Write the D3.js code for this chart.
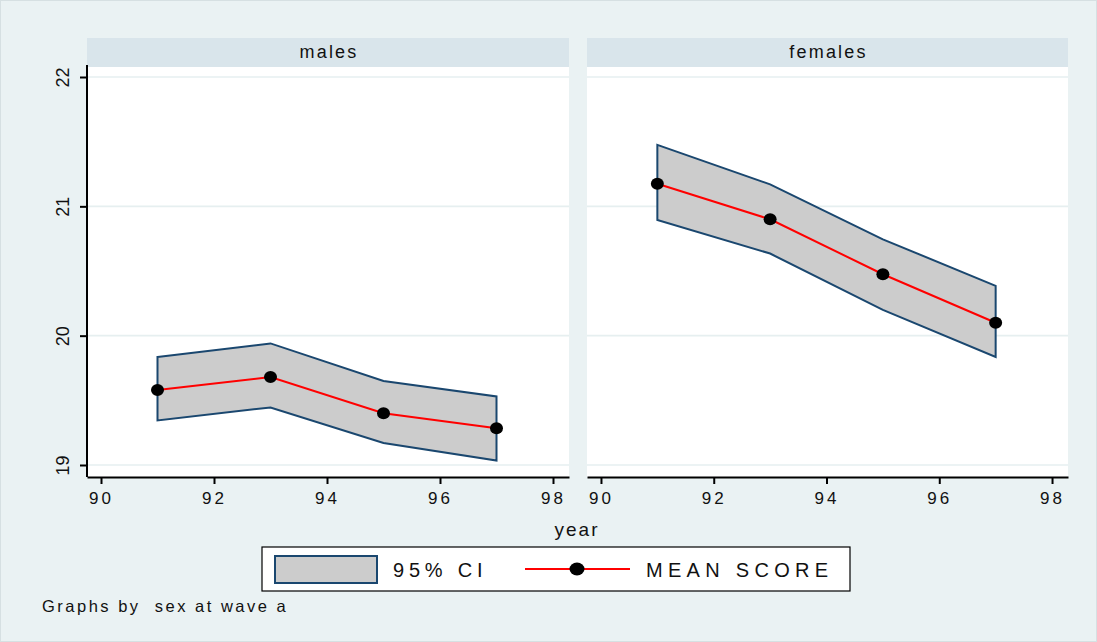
<!DOCTYPE html>
<html>
<head>
<meta charset="utf-8">
<script src="https://cdn.jsdelivr.net/npm/d3@7"></script>
<style>
  body { margin: 0; background: #eaf2f3; }
  text { font-family: "Liberation Sans", Arial, sans-serif; fill: #111; white-space: pre; }
</style>
</head>
<body>
<div id="chart"></div>
<script>
// data
const years = [91, 93, 95, 97];
const groups = ["males", "females"];
const meanMales = [19.58, 19.68, 19.40, 19.285];
const upperMales = [19.835, 19.94, 19.65, 19.53];
const lowerMales = [19.345, 19.445, 19.17, 19.035];
const meanFemales = [21.175, 20.9, 20.475, 20.1];
const upperFemales = [21.475, 21.17, 20.745, 20.385];
const lowerFemales = [20.895, 20.635, 20.2, 19.835];
const xTicks = [90, 92, 94, 96, 98];
const yTicks = [19, 20, 21, 22];

const width = 1097;
const height = 642;

const svg = d3.select("#chart").append("svg").attr("width", width).attr("height", height);
svg.append("rect").attr("x", 0.5).attr("y", 0.5).attr("width", width - 1).attr("height", height - 1)
  .attr("fill", "#eaf2f3").attr("stroke", "#d6e0e2");

const plotTop = 67, plotBottom = 477, headTop = 38;
const panels = [
  { name: groups[0], x0: 87, x1: 569, mean: meanMales, hi: upperMales, lo: lowerMales },
  { name: groups[1], x0: 587, x1: 1068, mean: meanFemales, hi: upperFemales, lo: lowerFemales }
];

const y = d3.scaleLinear().domain([19 - 12 / 129.3, 22 + 10 / 129.3]).range([plotBottom, plotTop]);

panels.forEach((p, i) => {
  const x = d3.scaleLinear().domain([90 - 14 / 56.5, 98 + 16 / 56.5]).range([p.x0, p.x1]);
  const g = svg.append("g");

  // header strip
  g.append("rect").attr("x", p.x0).attr("y", headTop).attr("width", p.x1 - p.x0).attr("height", plotTop - headTop)
    .attr("fill", "#d9e5eb");
  g.append("text").attr("x", (p.x0 + p.x1) / 2 + 1).attr("y", 58).attr("text-anchor", "middle")
    .attr("font-size", 18).attr("letter-spacing", "2.2px").text(p.name);

  // plot area
  g.append("rect").attr("x", p.x0).attr("y", plotTop).attr("width", p.x1 - p.x0).attr("height", plotBottom - plotTop)
    .attr("fill", "#fff");

  // grid
  g.selectAll(".grid").data(yTicks).enter().append("line")
    .attr("x1", p.x0).attr("x2", p.x1).attr("y1", d => y(d)).attr("y2", d => y(d))
    .attr("stroke", "#e6eff0").attr("stroke-width", 1.6);

  // confidence band
  const band = d3.area().x(d => x(d.yr)).y0(d => y(d.lo)).y1(d => y(d.hi));
  const bandData = years.map((yr, k) => ({ yr: yr, lo: p.lo[k], hi: p.hi[k] }));
  g.append("path").datum(bandData).attr("d", band)
    .attr("fill", "#cccccc").attr("stroke", "none");
  const outline = years.map((yr, k) => [x(yr), y(p.hi[k])])
    .concat(years.slice().reverse().map((yr, k) => [x(yr), y(p.lo[years.length - 1 - k])]));
  g.append("path").attr("d", d3.line()(outline) + "Z")
    .attr("fill", "none").attr("stroke", "#1a476f").attr("stroke-width", 2).attr("stroke-linejoin", "miter");

  // mean line and markers
  g.append("path").datum(years.map((yr, k) => [x(yr), y(p.mean[k])]))
    .attr("d", d3.line()).attr("fill", "none").attr("stroke", "#ff0000").attr("stroke-width", 2);
  g.selectAll(".pt").data(years).enter().append("ellipse")
    .attr("cx", d => x(d)).attr("cy", (d, k) => y(p.mean[k])).attr("rx", 6.5).attr("ry", 6)
    .attr("fill", "#000");

  // x axis
  const xa = g.append("g").attr("transform", `translate(0,${plotBottom})`)
    .call(d3.axisBottom(x).tickValues(xTicks).tickSize(7).tickSizeOuter(0).tickPadding(8));
  xa.select(".domain").attr("stroke", "#000").attr("stroke-width", 2);
  xa.selectAll(".tick line").attr("stroke", "#000").attr("stroke-width", 2);
  xa.selectAll(".tick text").attr("font-size", 17).attr("letter-spacing", "3px").attr("dx", "0px")
    .attr("font-family", "Liberation Sans, Arial, sans-serif").attr("fill", "#111");

  if (i === 0) {
    const ya = g.append("g").attr("transform", `translate(${p.x0},0)`)
      .call(d3.axisLeft(y).tickValues(yTicks).tickFormat(d3.format("d")).tickSize(7).tickSizeOuter(0).tickPadding(0));
    ya.select(".domain").attr("stroke", "#000").attr("stroke-width", 2)
      .attr("d", `M0,${plotTop - 2}V${plotBottom}`);
    ya.selectAll(".tick line").attr("stroke", "#000").attr("stroke-width", 2);
    ya.selectAll(".tick text").attr("font-size", 18)
      .attr("font-family", "Liberation Sans, Arial, sans-serif").attr("fill", "#111")
      .attr("text-anchor", "middle").attr("x", 0).attr("dy", 0)
      .attr("transform", "translate(-18,0) rotate(-90)");
  }
});

// x title
svg.append("text").attr("x", 577).attr("y", 536).attr("text-anchor", "middle")
  .attr("font-size", 19).attr("letter-spacing", "2px").text("year");

// legend
const leg = svg.append("g");
leg.append("rect").attr("x", 262).attr("y", 547).attr("width", 588).attr("height", 44)
  .attr("fill", "#fff").attr("stroke", "#000").attr("stroke-width", 1.2);
leg.append("rect").attr("x", 275).attr("y", 556).attr("width", 102).attr("height", 27)
  .attr("fill", "#cccccc").attr("stroke", "#1a476f").attr("stroke-width", 2);
leg.append("text").attr("x", 393).attr("y", 577).attr("font-size", 20).attr("letter-spacing", "4.8px").text("95% CI");
leg.append("line").attr("x1", 525).attr("x2", 630).attr("y1", 569).attr("y2", 569)
  .attr("stroke", "#ff0000").attr("stroke-width", 2);
leg.append("ellipse").attr("cx", 577).attr("cy", 569).attr("rx", 7.5).attr("ry", 6.5).attr("fill", "#000");
leg.append("text").attr("x", 646).attr("y", 577).attr("font-size", 20).attr("letter-spacing", "5.3px").text("MEAN SCORE");

// note
svg.append("text").attr("x", 42).attr("y", 612).attr("font-size", 16.5).attr("letter-spacing", "2.5px")
  .text("Graphs by  sex at wave a");
</script>
</body>
</html>
